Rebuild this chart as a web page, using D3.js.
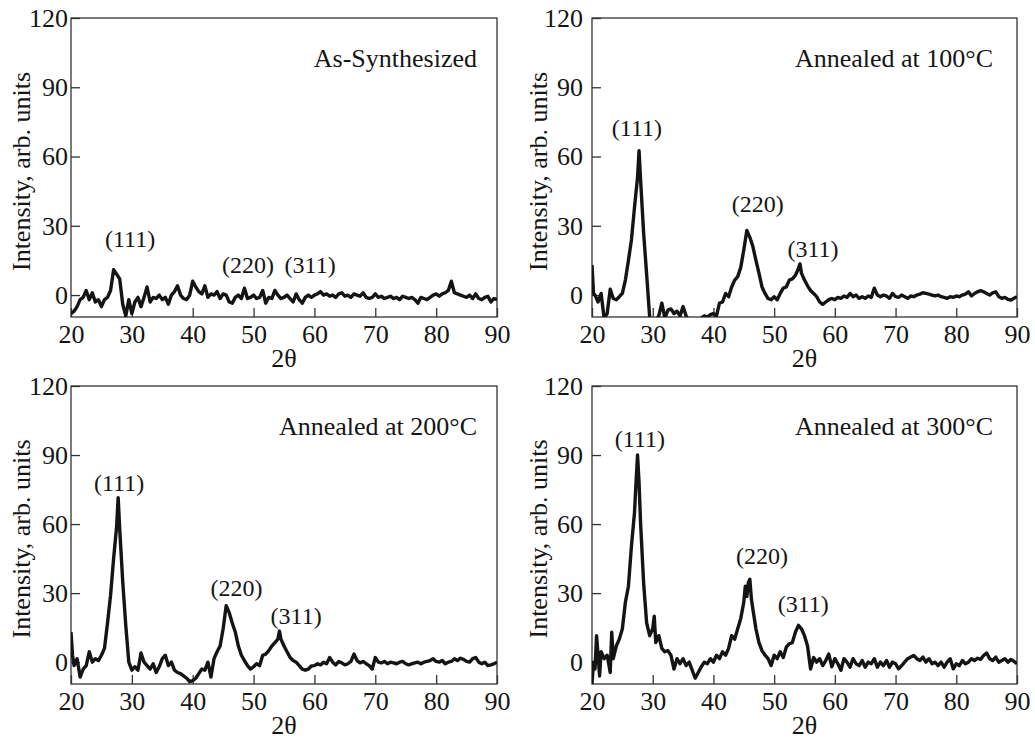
<!DOCTYPE html>
<html>
<head>
<meta charset="utf-8">
<script src="https://cdn.jsdelivr.net/npm/d3@7"></script>
<style>
  body { margin: 0; background: #fff; }
  svg text { font-family: "Liberation Serif", "Times New Roman", serif; fill: #151515; }
</style>
</head>
<body>
<div id="chart"></div>
<script>
// XRD patterns, [2theta, intensity] pairs
var asSynthesized = [
  [20,-8],[20.5,-7],[21,-5],[21.5,-2],[22,-1],[22.5,2],[23,-2],[23.5,1],[24,-3],[24.5,-2],
  [25,-5],[25.5,-2],[26,-1],[26.5,2],[27,11],[27.5,9],[28,7],[28.5,-4],[29,-9],[29.5,-2],
  [30,-8],[30.5,-3],[31,-1],[31.5,-5],[32,-1],[32.5,3.5],[33,-3],[33.5,-1],[34,-1.5],[34.5,0],
  [35,-2],[35.5,-1],[36,-4],[36.5,0],[37,1.5],[37.5,4],[38,0],[38.5,-1.5],[39,-2],[39.5,0],
  [40,6],[40.5,3.5],[41,1.5],[41.5,0.5],[42,4],[42.5,-1],[43,0.5],[43.5,0],[44,1.5],[44.5,-1.5],
  [45,0.5],[45.5,0],[46,-3],[46.5,-3.5],[47,-1],[47.5,0],[48,-1.5],[48.5,3],[49,-1.5],[49.5,-1],
  [50,0],[50.5,-1.5],[51,-1],[51.5,2],[52,-3.5],[52.5,-1],[53,-1.5],[53.5,2],[54,0],[54.5,-1.5],
  [55,-1],[55.5,0],[56,-1.5],[56.5,-3],[57,0.5],[57.5,-2],[58,-3.5],[58.5,-1],[59,0],[59.5,-1],
  [60,0],[60.5,0.5],[61,1.5],[61.5,0],[62,0.5],[62.5,-0.5],[63,0],[63.5,-1],[64,0.5],[64.5,1],
  [65,-0.5],[65.5,0],[66,-1],[66.5,0.5],[67,0],[67.5,-0.5],[68,1],[68.5,-1],[69,-1.5],[69.5,-1],
  [70,0.5],[70.5,-1],[71,-0.5],[71.5,-1.5],[72,-1],[72.5,-0.5],[73,-1.5],[73.5,-1],[74,-2],[74.5,-0.5],
  [75,-1],[75.5,-1.5],[76,-1],[76.5,-2],[77,-3.5],[77.5,-1],[78,-1.5],[78.5,-2],[79,-1],[79.5,0],
  [80,0.5],[80.5,-0.5],[81,0.5],[81.5,1],[82,2],[82.5,6],[83,1],[83.5,0.5],[84,0],[84.5,-0.5],
  [85,-1],[85.5,0],[86,-1.5],[86.5,0.5],[87,-1.5],[87.5,-2],[88,-1],[88.5,-0.5],[89,-3],[89.5,-1.5],
  [90,-2]
];

var annealed100 = [
  [20,13],[20.25,0.7],[20.5,0],[21,-3],[21.5,0.7],[22,-10],[22.5,-8],[23,2.5],[23.5,-1.5],[24,-2],
  [24.5,-0.7],[25,0.7],[25.5,6.5],[26,15],[26.5,24],[27,38],[27.5,51],[27.75,62.5],[28,50],[28.5,27],
  [29,9],[29.5,-9.5],[30,-12],[30.5,-11],[31,-9],[31.5,-3.5],[32,-10],[32.5,-6.5],[33,-6],[33.5,-8],
  [34,-7],[34.5,-9],[35,-5],[35.5,-9],[36,-11],[36.5,-12],[37,-12],[37.5,-11],[38,-10],[38.5,-9],
  [39,-9.5],[39.5,-8.5],[40,-8],[40.5,-9],[41,-3.5],[41.5,-3],[42,0.7],[42.5,-0.7],[43,3.5],[43.5,6.5],
  [44,8],[44.5,12],[45,19.5],[45.5,28],[46,25],[46.5,21],[47,15],[47.5,9.5],[48,3.5],[48.5,0.7],
  [49,-1.5],[49.5,-2],[50,-0.7],[50.5,-2],[51,0.7],[51.5,3],[52,3.5],[52.5,6.5],[53,7],[53.5,8.5],
  [54,11.5],[54.25,13.5],[54.5,9.5],[55,6.5],[55.5,4],[56,2],[56.5,0.7],[57,-0.7],[57.5,-3],[58,-4],
  [58.5,-3],[59,-2],[59.5,-1.5],[60,-2],[60.5,-1],[61,-1.4],[61.5,-0.4],[62,-1],[62.5,0.7],[63,-0.7],
  [63.5,0],[64,-1.4],[64.5,-0.7],[65,-1.4],[65.5,-0.4],[66,-1],[66.5,3],[67,0],[67.5,-0.7],[68,0],
  [68.5,-0.4],[69,-1.4],[69.5,0.7],[70,-0.7],[70.5,-1],[71,0],[71.5,-0.7],[72,-1.4],[72.5,-0.4],[73,-0.7],
  [73.5,0],[74,0.4],[74.5,1],[75,0.7],[75.5,0.4],[76,0],[76.5,-0.4],[77,0],[77.5,-0.7],[78,-1],
  [78.5,-1.4],[79,-0.7],[79.5,-1],[80,-0.4],[80.5,-0.7],[81,0],[81.5,0.4],[82,1.4],[82.5,-0.4],[83,0.7],
  [83.5,1.4],[84,1.9],[84.5,1.4],[85,0.7],[85.5,0],[86,1],[86.5,1.4],[87,-0.7],[87.5,-1.4],[88,-1],
  [88.5,-1.9],[89,-2.2],[89.5,-1.4],[90,-0.7]
];

var annealed200 = [
  [20,13],[20.25,3],[20.5,-1.5],[21,1.5],[21.5,-6.5],[22,-3],[22.5,-1.5],[23,4.5],[23.5,0],[24,1.5],
  [24.5,0.7],[25,3],[25.5,6],[26,17],[26.5,29],[27,45],[27.5,59],[27.75,71.5],[28,58],[28.5,35],
  [29,16],[29.5,0],[30,-3.5],[30.5,-2],[31,-3.5],[31.5,4],[32,0],[32.5,-1.5],[33,-3],[33.5,-0.7],
  [34,-4.5],[34.5,-2],[35,1.5],[35.5,3],[36,-1.5],[36.5,0],[37,-3.5],[37.5,-4.5],[38,-5],[38.5,-6],
  [39,-7],[39.5,-8.5],[40,-8],[40.5,-7],[41,-5],[41.5,-3],[42,-3.5],[42.5,0],[43,-6.5],[43.5,1.5],
  [44,4.5],[44.5,7],[45,14.5],[45.5,24.5],[46,21.5],[46.5,17],[47,13],[47.5,7],[48,3],[48.5,0.7],
  [49,-1.5],[49.5,-3],[50,-2],[50.5,-0.7],[51,-1.5],[51.5,3],[52,3.5],[52.5,5],[53,7],[53.5,8.5],
  [54,10],[54.25,13.5],[54.5,10],[55,7],[55.5,4.5],[56,2],[56.5,0.7],[57,0],[57.5,-1.5],[58,-3],
  [58.5,-3.5],[59,-3],[59.5,-1.7],[60,-1.5],[60.5,-0.7],[61,-1.2],[61.5,0],[62,-0.7],[62.5,2],[63,0],
  [63.5,-1.2],[64,0.3],[64.5,-0.3],[65,-1.2],[65.5,-0.7],[66,0.3],[66.5,3.5],[67,0.7],[67.5,-0.3],[68,0.3],
  [68.5,-0.7],[69,-1.5],[69.5,-3],[70,2],[70.5,0],[71,-0.3],[71.5,0.3],[72,-0.7],[72.5,0],[73,-0.3],
  [73.5,-0.7],[74,0],[74.5,0.3],[75,-0.7],[75.5,-1.2],[76,-0.7],[76.5,-0.3],[77,0],[77.5,-0.7],[78,0],
  [78.5,0.3],[79,0.7],[79.5,1.5],[80,0.3],[80.5,0],[81,0.7],[81.5,-0.7],[82,0],[82.5,0.3],[83,1.5],
  [83.5,0.7],[84,1.7],[84.5,1.2],[85,0.3],[85.5,0],[86,1.5],[86.5,2],[87,0],[87.5,-0.7],[88,0],
  [88.5,-1.5],[89,-1.2],[89.5,-0.7],[90,0]
];

var annealed300 = [
  [20,-9.5],[20.25,0],[20.5,-3],[20.75,11.5],[21,3],[21.25,-6],[21.5,4.5],[22,1.5],[22.5,3],[23,-4.5],
  [23.25,13],[23.5,1.5],[24,7],[24.5,10],[25,14.5],[25.5,26],[26,33],[26.5,50.5],[27,65],[27.25,78],
  [27.5,90],[27.75,78],[28,60.5],[28.5,34.5],[29,17],[29.5,11.5],[30,14.5],[30.25,20],[30.5,8.5],[31,11.5],
  [31.5,6],[32,4.5],[32.5,5],[33,3],[33.5,-3],[34,1.5],[34.5,-0.7],[35,1.5],[35.5,-1.5],[36,0],
  [36.5,-3.5],[37,-7],[37.5,-4.5],[38,-2],[38.5,0],[39,-0.7],[39.5,1.5],[40,0],[40.5,3],[41,1.5],
  [41.5,4.5],[42,3],[42.5,6],[43,11.5],[43.5,10],[44,14.5],[44.5,19],[45,26],[45.25,33],[45.5,28.5],
  [45.75,34.5],[46,36],[46.25,27.5],[46.5,23],[47,14.5],[47.5,8.5],[48,5],[48.5,3],[49,1.5],[49.5,-1.5],
  [50,3],[50.5,1.5],[51,4.5],[51.5,2],[52,6.5],[52.5,8],[53,8.5],[53.5,13],[54,16],[54.5,14.5],
  [55,11.5],[55.5,7],[56,-3],[56.5,2],[57,0],[57.5,1.5],[58,-1.5],[58.5,0.7],[59,3.5],[59.5,-2],
  [60,1.5],[60.5,-0.7],[61,-3.5],[61.5,1.5],[62,0],[62.5,-2.2],[63,1.5],[63.5,-0.7],[64,-1.5],[64.5,0.7],
  [65,-2.2],[65.5,0],[66,-0.7],[66.5,1.5],[67,-2.2],[67.5,0],[68,-1.5],[68.5,0.7],[69,-2.2],[69.5,0],
  [70,-0.7],[70.5,-2.9],[71,-1.5],[71.5,0],[72,1.5],[72.5,2.2],[73,2.9],[73.5,1.5],[74,0.7],[74.5,2.2],
  [75,0],[75.5,1.5],[76,-0.7],[76.5,0],[77,-1.5],[77.5,0],[78,-2.2],[78.5,0],[79,1.5],[79.5,-2.9],
  [80,-0.7],[80.5,-1.5],[81,0.7],[81.5,-0.7],[82,0],[82.5,1.5],[83,0.7],[83.5,1.7],[84,1.2],[84.5,2.9],
  [85,4],[85.5,1.5],[86,0.7],[86.5,2.2],[87,0],[87.5,0.7],[88,1.5],[88.5,0],[89,1.2],[89.5,0.3],
  [90,-0.7]
];

var panelTitles = ["As-Synthesized", "Annealed at 100°C", "Annealed at 200°C", "Annealed at 300°C"];
var peakNames = ["(111)", "(220)", "(311)"];
// where each peak label sits, in data units [2theta, intensity]
var peakLabelsAs = [[29.7, 20.7], [49.1, 9.5], [59.3, 9.5]];
var peakLabels100 = [[27.4, 69], [47.3, 36], [56.4, 16.5]];
var peakLabels200 = [[27.9, 74.3], [47.2, 28.8], [57.0, 16.6]];
var peakLabels300 = [[27.9, 93.5], [48.0, 42.5], [54.8, 21.6]];

var xTicks = [20, 30, 40, 50, 60, 70, 80, 90];
var yTicks = [0, 30, 60, 90, 120];
var xDomain = [20, 90];
var yDomain = [-9.5, 120];

var panels = [
  { title: panelTitles[0], data: asSynthesized, peaks: peakLabelsAs },
  { title: panelTitles[1], data: annealed100, peaks: peakLabels100 },
  { title: panelTitles[2], data: annealed200, peaks: peakLabels200 },
  { title: panelTitles[3], data: annealed300, peaks: peakLabels300 }
];

// plot boxes in page pixels
var boxes = [
  { left: 71, top: 18, w: 426, h: 299, padY: 3, labelOff: 41, titleOff: 20 },
  { left: 592, top: 18, w: 425, h: 299, padY: 9, labelOff: 45, titleOff: 24 },
  { left: 71, top: 386, w: 426, h: 298, padY: 3, labelOff: 41, titleOff: 20 },
  { left: 592, top: 386, w: 425, h: 298, padY: 9, labelOff: 45, titleOff: 24 }
];

var svg = d3.select("#chart").append("svg")
    .attr("width", 1035)
    .attr("height", 743);

svg.append("rect").attr("width", 1035).attr("height", 743).attr("fill", "#fff");

panels.forEach(function (p, i) {
    var b = boxes[i];
    var g = svg.append("g").attr("transform", "translate(" + b.left + "," + b.top + ")");

    var x = d3.scaleLinear().domain(xDomain).range([0, b.w]);
    var y = d3.scaleLinear().domain(yDomain).range([b.h, 0]);

    g.append("clipPath").attr("id", "clip" + i)
        .append("rect").attr("width", b.w).attr("height", b.h);

    // axes with inward ticks
    var xa = g.append("g")
        .attr("transform", "translate(0," + b.h + ")")
        .call(d3.axisBottom(x).tickValues(xTicks).tickSize(-9).tickPadding(8));
    var ya = g.append("g")
        .call(d3.axisLeft(y).tickValues(yTicks).tickSize(-9).tickPadding(b.padY));

    [xa, ya].forEach(function (a) {
        a.attr("font-family", null).attr("font-size", null);
        a.select(".domain").remove();
        a.selectAll(".tick line").attr("stroke", "#333").attr("stroke-width", 1.3);
        a.selectAll(".tick text").style("font-size", "26px").attr("fill", "#151515");
    });

    // frame
    g.append("rect")
        .attr("width", b.w).attr("height", b.h)
        .attr("fill", "none").attr("stroke", "#333").attr("stroke-width", 1.3);

    var line = d3.line()
        .x(function (d) { return x(d[0]); })
        .y(function (d) { return y(d[1]); });

    g.append("path")
        .datum(p.data)
        .attr("clip-path", "url(#clip" + i + ")")
        .attr("fill", "none")
        .attr("stroke", "#141414")
        .attr("stroke-width", 3.4)
        .attr("stroke-linejoin", "round")
        .attr("d", line);

    g.append("text")
        .attr("x", b.w - b.titleOff).attr("y", 49)
        .attr("text-anchor", "end")
        .style("font-size", "26px")
        .text(p.title);

    g.selectAll(".peak").data(p.peaks).enter().append("text")
        .attr("class", "peak")
        .attr("x", function (d) { return x(d[0]); })
        .attr("y", function (d) { return y(d[1]); })
        .attr("text-anchor", "middle")
        .style("font-size", "24px")
        .text(function (d, k) { return peakNames[k]; });

    g.append("text")
        .attr("x", b.w / 2).attr("y", b.h + 50)
        .attr("text-anchor", "middle")
        .style("font-size", "26px")
        .text("2θ");

    g.append("text")
        .attr("transform", "translate(" + (-b.labelOff) + "," + (b.h / 2 + 4) + ") rotate(-90)")
        .attr("text-anchor", "middle")
        .style("font-size", "26px")
        .text("Intensity, arb. units");
});
</script>
</body>
</html>
